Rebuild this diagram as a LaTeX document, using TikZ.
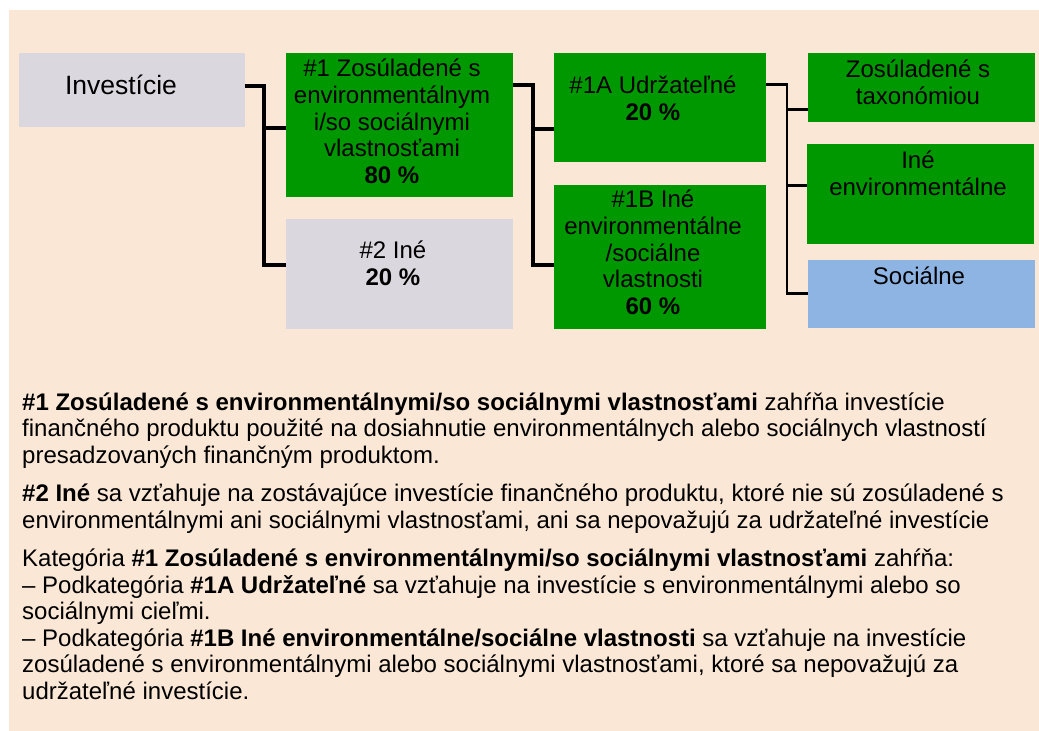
\documentclass[tikz,border=0pt]{standalone}
\usepackage{fontspec}
\setmainfont{Liberation Sans}
\usetikzlibrary{positioning,calc}
\definecolor{peach}{RGB}{250,231,214}
\definecolor{boxgray}{RGB}{218,216,222}
\definecolor{boxgreen}{RGB}{0,152,0}
\definecolor{boxblue}{RGB}{142,180,227}
\newcommand{\boxfont}{\fontsize{24}{26.7}\selectfont}
\newcommand{\bodyfont}{\fontsize{24}{26.5}\selectfont}

\begin{document}
\begin{tikzpicture}[x=1pt, y=-1pt,
    box/.style={rectangle, inner sep=0pt, anchor=north west},
    boxtext/.style={inner sep=0pt, align=center, font=\boxfont},
    para/.style={inner sep=0pt, align=left, anchor=base west, font=\bodyfont},
    conn/.style={line width=3.5pt, black},
    connthin/.style={line width=2.8pt, black}]
    \useasboundingbox (0,0) rectangle (1039,731);
    \fill[peach] (9,10) rectangle (1039,731);

    \node[box, fill=boxgray, minimum width=226, minimum height=74] (inv) at (19,53) {};
    \node[box, fill=boxgreen, minimum width=227, minimum height=144] (c1) at (286,53) {};
    \node[box, fill=boxgray, minimum width=227, minimum height=110] (c2) at (286,219) {};
    \node[box, fill=boxgreen, minimum width=212, minimum height=109] (c1a) at (554,53) {};
    \node[box, fill=boxgreen, minimum width=212, minimum height=144] (c1b) at (554,185) {};
    \node[box, fill=boxgreen, minimum width=227, minimum height=69] (tax) at (808,53) {};
    \node[box, fill=boxgreen, minimum width=227, minimum height=100] (env) at (807,144) {};
    \node[box, fill=boxblue, minimum width=227, minimum height=68] (soc) at (808,260) {};

    \node[boxtext, font=\fontsize{26.5}{29}\selectfont] (invt) at (121,85) {Investície};
    \node[boxtext] (c1t) at (392,121.5) {\#1 Zosúladené s\\environmentálnym\\i/so sociálnymi\\vlastnosťami\\\textbf{80 \%}};
    \node[boxtext] (c2t) at (393,263.5) {\#2 Iné\\\textbf{20 \%}};
    \node[boxtext] (c1at) at (653,98) {\#1A Udržateľné\\\textbf{20 \%}};
    \node[boxtext] (c1bt) at (653,252.5) {\#1B Iné\\environmentálne\\/sociálne\\vlastnosti\\\textbf{60 \%}};
    \node[boxtext] (taxt) at (918,82.5) {Zosúladené s\\taxonómiou};
    \node[boxtext] (envt) at (918,173.5) {Iné\\environmentálne};
    \node[boxtext] (soct) at (919,276) {Sociálne};

    \draw[conn] ([yshift=4]inv.east) -| ([xshift=-22,yshift=9]c2.west) -- ([yshift=9]c2.west);
    \draw[conn] ([xshift=-22,yshift=-3]c1.west) -- ([yshift=-3]c1.west);
    \draw[conn] ([yshift=40]c1.east) -| ([xshift=-21,yshift=-8]c1b.west) -- ([yshift=-8]c1b.west);
    \draw[conn] ([xshift=-21,yshift=-21.5]c1a.west) -- ([yshift=-21.5]c1a.west);
    \draw[connthin] ([yshift=23.5]c1a.east) -| ([xshift=-21,yshift=1]soc.west) -- ([yshift=1]soc.west);
    \draw[connthin] ([xshift=-21,yshift=-21.5]tax.west) -- ([yshift=-21.5]tax.west);
    \draw[connthin] ([xshift=-20,yshift=9]env.west) -- ([yshift=9]env.west);

    \node[para] (p1) at (22,463) {\textbf{\#1 Zosúladené s environmentálnymi/so sociálnymi vlastnosťami} zahŕňa investície\\finančného produktu použité na dosiahnutie environmentálnych alebo sociálnych vlastností\\presadzovaných finančným produktom.};
    \node[para] (p2) at (22,528) {\textbf{\#2 Iné} sa vzťahuje na zostávajúce investície finančného produktu, ktoré nie sú zosúladené s\\environmentálnymi ani sociálnymi vlastnosťami, ani sa nepovažujú za udržateľné investície};
    \node[para] (p3) at (22,699) {Kategória \textbf{\#1 Zosúladené s environmentálnymi/so sociálnymi vlastnosťami} zahŕňa:\\– Podkategória \textbf{\#1A Udržateľné} sa vzťahuje na investície s environmentálnymi alebo so\\sociálnymi cieľmi.\\– Podkategória \textbf{\#1B Iné environmentálne/sociálne vlastnosti} sa vzťahuje na investície\\zosúladené s environmentálnymi alebo sociálnymi vlastnosťami, ktoré sa nepovažujú za\\udržateľné investície.};
\end{tikzpicture}
\end{document}
